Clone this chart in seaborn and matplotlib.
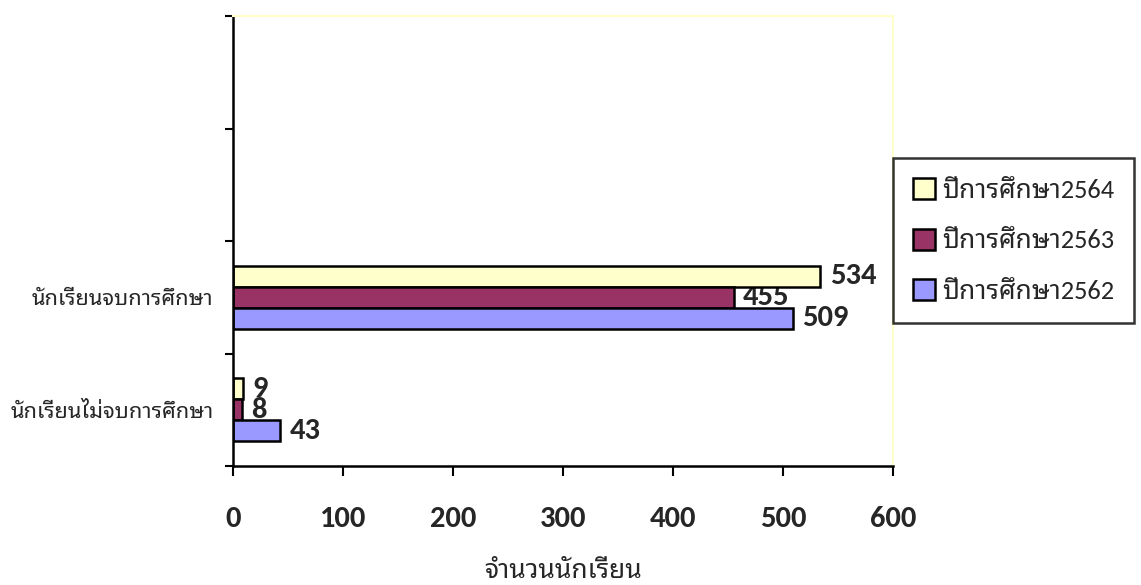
import numpy as np
import pandas as pd
import matplotlib
matplotlib.use("Agg")
import matplotlib.pyplot as plt
import seaborn as sns

categories = ["นักเรียนจบการศึกษา", "นักเรียนไม่จบการศึกษา"]
years = ["ปีการศึกษา2564", "ปีการศึกษา2563", "ปีการศึกษา2562"]
values_2564 = [534, 9]
values_2563 = [455, 8]
values_2562 = [509, 43]
colors = ["#FFFFCC", "#993366", "#9999FF"]

sns.set_style("white")
plt.rcParams['font.family'] = ['Carlito', 'Noto Sans Thai Looped', 'DejaVu Sans']

df = pd.DataFrame({
    "cat": categories * 3,
    "year": [years[0]] * 2 + [years[1]] * 2 + [years[2]] * 2,
    "value": values_2564 + values_2563 + values_2562,
})

fig = plt.figure(figsize=(11.41, 5.85), dpi=100)
ax = fig.add_axes([233 / 1141, 119 / 585, 660 / 1141, 450 / 585])
sns.barplot(data=df, y="cat", x="value", hue="year", hue_order=years,
            order=categories, palette=colors, width=0.56, orient="h",
            edgecolor="black", linewidth=1.8, saturation=1, ax=ax)

# two empty category slots above the data, as in the original
ax.set_ylim(1.5, -2.5)
ax.set_xlim(0, 600)
ax.set_xticks(np.arange(0, 601, 100))
ax.set_yticks([0, 1])
ax.set_yticklabels(categories, fontsize=15.7)
ax.set_yticks([-2.5, -1.5, -0.5, 0.5, 1.5], minor=True)
ax.tick_params(axis="y", which="major", length=0, pad=14)
ax.tick_params(axis="y", which="minor", length=6, width=1.5, color="black", left=True)
ax.tick_params(axis="x", length=7, width=1.5, color="black", bottom=True,
               labelsize=22, pad=22)
for lab in ax.get_xticklabels():
    lab.set_fontweight("bold")
ax.set_ylabel("")
ax.set_xlabel("จำนวนนักเรียน", fontsize=19, labelpad=19)

for side in ["left", "bottom"]:
    ax.spines[side].set_color("black")
    ax.spines[side].set_linewidth(1.8)
for side in ["top", "right"]:
    ax.spines[side].set_color("#FFFFCC")
    ax.spines[side].set_linewidth(1.5)

for bars in ax.patches:
    bars.set_zorder(2)
for cont in ax.containers:
    ax.bar_label(cont, padding=7, fontsize=22, fontweight="bold", zorder=1)

handles, labels = ax.get_legend_handles_labels()
leg = ax.legend(handles, labels, loc="upper left", bbox_to_anchor=(1.0, 0.684),
                borderaxespad=0, frameon=True, fontsize=19, handlelength=0.85,
                handleheight=0.85, labelspacing=1.02, borderpad=0.75,
                handletextpad=0.25, fancybox=False, edgecolor="black")
leg.get_frame().set_linewidth(1.8)

fig.savefig("out.png", dpi=100)
